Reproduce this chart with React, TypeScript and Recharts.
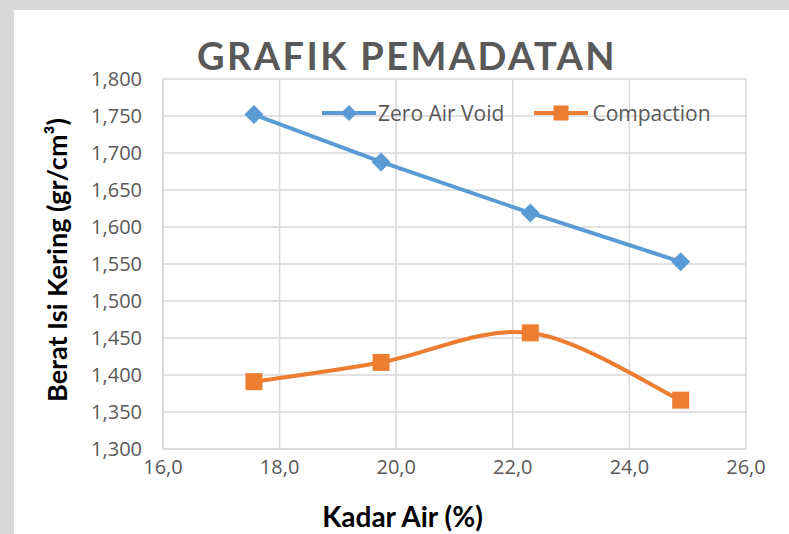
import React from 'react';
import { LineChart, Line, XAxis, YAxis, CartesianGrid, Legend, Label } from 'recharts';

// Kadar air (%) for each test point
const kadarAir = [17.56, 19.74, 22.3, 24.88];
// Berat isi kering (gr/cm3)
const zeroAirVoid = [1.752, 1.688, 1.619, 1.553];
const compaction = [1.391, 1.417, 1.457, 1.366];

const xTicks = [16, 18, 20, 22, 24, 26];
const yTicks = [1.3, 1.35, 1.4, 1.45, 1.5, 1.55, 1.6, 1.65, 1.7, 1.75, 1.8];

const data = kadarAir.map((x, i) => ({ x, zav: zeroAirVoid[i], comp: compaction[i] }));

const BLUE = '#5B9BD5';
const ORANGE = '#ED7D31';
const FONT = '"Open Sans", sans-serif';
const BOLD_FONT = 'Lato, sans-serif';

// excel-like smoothed line (catmull-rom as bezier, 1/6 control points)
const excelSmooth = (context: any) => {
  let pts: number[][] = [];
  return {
    areaStart() {},
    areaEnd() {},
    lineStart() {
      pts = [];
    },
    point(x: number, y: number) {
      pts.push([+x, +y]);
    },
    lineEnd() {
      if (!pts.length) return;
      context.moveTo(pts[0][0], pts[0][1]);
      for (let i = 0; i < pts.length - 1; i++) {
        const p0 = pts[Math.max(i - 1, 0)];
        const p1 = pts[i];
        const p2 = pts[i + 1];
        const p3 = pts[Math.min(i + 2, pts.length - 1)];
        context.bezierCurveTo(
          p1[0] + (p2[0] - p0[0]) / 6,
          p1[1] + (p2[1] - p0[1]) / 6,
          p2[0] - (p3[0] - p1[0]) / 6,
          p2[1] - (p3[1] - p1[1]) / 6,
          p2[0],
          p2[1]
        );
      }
    },
  };
};

const Diamond = ({ cx, cy, r = 9.5, fill = BLUE }: any) => (
  <path d={`M${cx} ${cy - r}L${cx + r} ${cy}L${cx} ${cy + r}L${cx - r} ${cy}Z`} fill={fill} />
);
const Square = ({ cx, cy, s = 17, fill = ORANGE }: any) => (
  <rect x={cx - s / 2} y={cy - s / 2} width={s} height={s} fill={fill} />
);

const LegendBox = () => (
  <div style={{ display: 'flex', alignItems: 'center', fontFamily: FONT, fontSize: 21, color: '#595959', whiteSpace: 'nowrap' }}>
    <svg width={54} height={20}>
      <line x1={0} y1={10} x2={54} y2={10} stroke={BLUE} strokeWidth={4} />
      <Diamond cx={27} cy={10} r={8} />
    </svg>
    <span style={{ marginLeft: 2, marginRight: 30 }}>Zero Air Void</span>
    <svg width={54} height={20}>
      <line x1={0} y1={10} x2={54} y2={10} stroke={ORANGE} strokeWidth={4} />
      <Square cx={27} cy={10} s={15} />
    </svg>
    <span style={{ marginLeft: 4 }}>Compaction</span>
  </div>
);

const fmtX = (v: number) => v.toFixed(1).replace('.', ',');
const fmtY = (v: number) => v.toFixed(3).replace('.', ',');

export default function App() {
  return (
    <div style={{ position: 'absolute', left: 0, top: 0, width: 789, height: 534, background: '#d9d9d9' }}>
      <div style={{ position: 'absolute', left: 14, top: 10, width: 775, height: 524, background: '#ffffff' }}>
        <div style={{ position: 'absolute', left: 0, top: 22, width: 786, textAlign: 'center', fontFamily: BOLD_FONT, fontWeight: 700, fontSize: 38, letterSpacing: 2.4, color: '#595959' }}>
          GRAFIK PEMADATAN
        </div>
        <LineChart width={775} height={524} data={data} margin={{ top: 69, right: 43, bottom: 20, left: 0 }}>
          <CartesianGrid stroke="#d9d9d9" strokeWidth={1.5} />
          <XAxis
            dataKey="x"
            type="number"
            domain={[16, 26]}
            ticks={xTicks}
            tickFormatter={fmtX}
            axisLine={{ stroke: '#d9d9d9', strokeWidth: 1.5 }}
            tickLine={false}
            tickSize={0}
            tickMargin={11}
            height={65}
            tick={{ fill: '#595959', fontSize: 20, fontFamily: FONT }}
          >
            <Label
              content={({ viewBox }: any) => (
                <text x={viewBox.x + viewBox.width / 2 - 52} y={viewBox.y + 78} textAnchor="middle" fill="#000" fontFamily={BOLD_FONT} fontWeight={700} fontSize={28}>
                  Kadar Air (%)
                </text>
              )}
            />
          </XAxis>
          <YAxis
            type="number"
            domain={[1.3, 1.8]}
            ticks={yTicks}
            tickFormatter={fmtY}
            axisLine={{ stroke: '#d9d9d9', strokeWidth: 1.5 }}
            tickLine={false}
            tickSize={0}
            tickMargin={21}
            width={149}
            tick={{ fill: '#595959', fontSize: 20, fontFamily: FONT }}
          >
            <Label
              content={({ viewBox }: any) => {
                const cy = viewBox.y + viewBox.height / 2 - 4;
                return (
                  <text
                    x={46}
                    y={cy}
                    transform={`rotate(-90 46 ${cy})`}
                    textAnchor="middle"
                    dominantBaseline="middle"
                    fill="#000"
                    fontFamily={BOLD_FONT}
                    fontWeight={700}
                    fontSize={27}
                  >
                    Berat Isi Kering (gr/cm³)
                  </text>
                );
              }}
            />
          </YAxis>
          <Legend content={<LegendBox />} verticalAlign="middle" layout="horizontal" wrapperStyle={{ top: 89, left: 308, width: 'auto' }} />
          <Line
            dataKey="zav"
            name="Zero Air Void"
            type="linear"
            stroke={BLUE}
            strokeWidth={4}
            dot={(p: any) => <Diamond key={p.index} cx={p.cx} cy={p.cy} />}
            activeDot={false}
            isAnimationActive={false}
          />
          <Line
            dataKey="comp"
            name="Compaction"
            type={excelSmooth as any}
            stroke={ORANGE}
            strokeWidth={4}
            dot={(p: any) => <Square key={p.index} cx={p.cx} cy={p.cy} />}
            activeDot={false}
            isAnimationActive={false}
          />
        </LineChart>
      </div>
    </div>
  );
}
